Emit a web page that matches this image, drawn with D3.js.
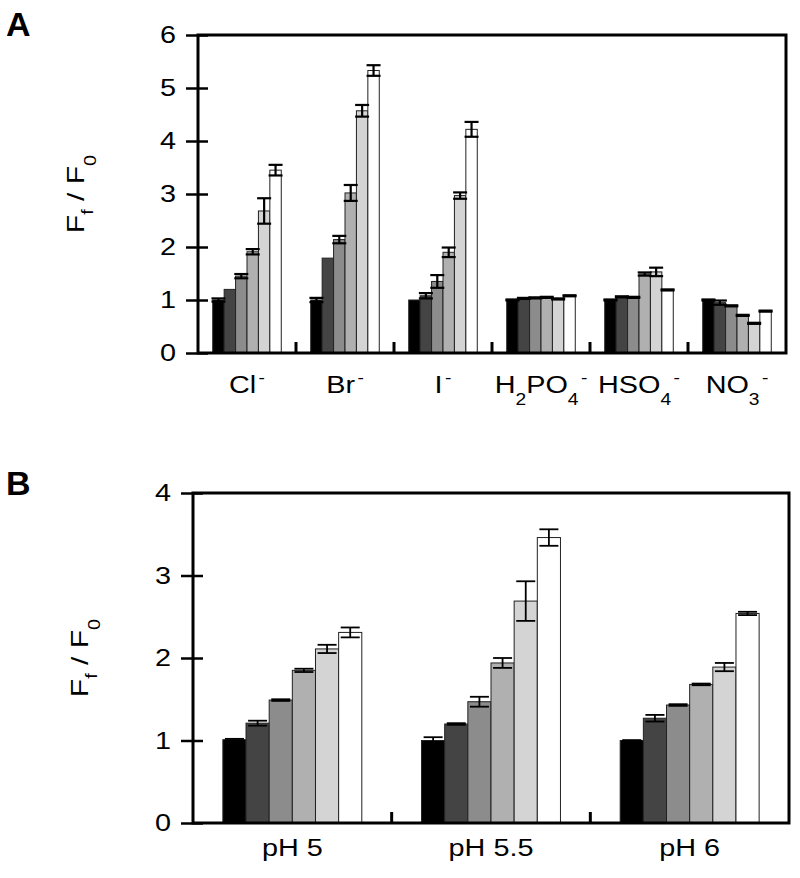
<!DOCTYPE html>
<html>
<head>
<meta charset="utf-8">
<script src="https://cdn.jsdelivr.net/npm/d3@7"></script>
<style>
  body { margin: 0; background: #fff; }
  text { font-family: "Liberation Sans", Arial, sans-serif; fill: #000; }
</style>
</head>
<body>
<svg id="chart" width="800" height="878"></svg>
<script>
// ---------- data ----------
const levels = ["c0", "c1", "c2", "c3", "c4", "c5"];
const levelColors = ["#000000", "#444444", "#8c8c8c", "#b0b0b0", "#d4d4d4", "#ffffff"];

// Panel A: anions (label parts: [text, kind] kind: n=normal, sub, sup)
const anionsA = ["Cl-", "Br-", "I-", "H2PO4-", "HSO4-", "NO3-"];
const anionLabels = [
  [["Cl", "n"], ["-", "sup"]],
  [["Br", "n"], ["-", "sup"]],
  [["I", "n"], ["-", "sup"]],
  [["H", "n"], ["2", "sub"], ["PO", "n"], ["4", "sub"], ["-", "sup"]],
  [["HSO", "n"], ["4", "sub"], ["-", "sup"]],
  [["NO", "n"], ["3", "sub"], ["-", "sup"]]
];
const valuesA = [
  [1.00, 1.20, 1.45, 1.91, 2.68, 3.45],
  [1.00, 1.79, 2.14, 3.02, 4.57, 5.33],
  [1.00, 1.08, 1.35, 1.90, 2.97, 4.22],
  [1.00, 1.03, 1.04, 1.05, 1.02, 1.08],
  [1.00, 1.06, 1.05, 1.49, 1.53, 1.19],
  [1.00, 0.95, 0.89, 0.71, 0.56, 0.79]
];
const errorsA = [
  [0.03, 0.00, 0.04, 0.05, 0.24, 0.10],
  [0.04, 0.00, 0.07, 0.15, 0.11, 0.10],
  [0.00, 0.05, 0.12, 0.09, 0.06, 0.14],
  [0.01, 0.01, 0.01, 0.01, 0.01, 0.01],
  [0.01, 0.01, 0.01, 0.03, 0.08, 0.01],
  [0.01, 0.04, 0.01, 0.01, 0.01, 0.01]
];
const ticksA = [0, 1, 2, 3, 4, 5, 6];

// Panel B: pH
const pHs = ["pH 5", "pH 5.5", "pH 6"];
const valuesB = [
  [1.01, 1.21, 1.49, 1.85, 2.11, 2.31],
  [1.00, 1.20, 1.47, 1.94, 2.69, 3.46],
  [1.00, 1.27, 1.43, 1.68, 1.89, 2.54]
];
const errorsB = [
  [0.01, 0.03, 0.01, 0.02, 0.05, 0.06],
  [0.04, 0.01, 0.06, 0.06, 0.24, 0.10],
  [0.005, 0.04, 0.01, 0.01, 0.05, 0.02]
];
const ticksB = [0, 1, 2, 3, 4];

// ---------- drawing ----------
const svg = d3.select("#chart");
const FS = 24, FSS = 16, SX = 1.2;

function panel(cfg) {
  const g = svg.append("g");
  const x = d3.scaleBand().domain(cfg.groups).range([cfg.left, cfg.right]).padding(0);
  const xi = d3.scaleBand().domain(levels).range([0, x.bandwidth()]).paddingInner(0).paddingOuter(1.29);
  const y = d3.scaleLinear().domain([0, cfg.ymax]).range([cfg.bottom, cfg.top]);

  // bars
  cfg.groups.forEach((grp, gi) => {
    const gg = g.append("g").attr("transform", `translate(${x(grp)},0)`);
    const rows = levels.map((l, li) => ({ l, li, v: cfg.values[gi][li], e: cfg.errors[gi][li] }));
    gg.selectAll("rect").data(rows).join("rect")
      .attr("x", d => xi(d.l))
      .attr("y", d => y(d.v))
      .attr("width", xi.bandwidth())
      .attr("height", d => y(0) - y(d.v))
      .attr("fill", d => levelColors[d.li])
      .attr("stroke", "#222")
      .attr("stroke-width", 1);
    const eb = rows.filter(d => d.e > 0);
    const cx = d => xi(d.l) + xi.bandwidth() / 2;
    gg.selectAll("line.v").data(eb).join("line").attr("class", "v")
      .attr("x1", cx).attr("x2", cx)
      .attr("y1", d => y(d.v - d.e)).attr("y2", d => y(d.v + d.e))
      .attr("stroke", "#000").attr("stroke-width", cfg.ebw);
    ["lo", "hi"].forEach(k => {
      gg.selectAll("line." + k).data(eb).join("line").attr("class", k)
        .attr("x1", d => cx(d) - cfg.cap / 2).attr("x2", d => cx(d) + cfg.cap / 2)
        .attr("y1", d => y(k === "lo" ? d.v - d.e : d.v + d.e))
        .attr("y2", d => y(k === "lo" ? d.v - d.e : d.v + d.e))
        .attr("stroke", "#000").attr("stroke-width", cfg.ebw);
    });
  });

  // frame
  g.append("rect")
    .attr("x", cfg.left).attr("y", cfg.top)
    .attr("width", cfg.right - cfg.left).attr("height", cfg.bottom - cfg.top)
    .attr("fill", "none").attr("stroke", "#000").attr("stroke-width", 3);

  // y axis
  const ya = g.append("g").attr("transform", `translate(${cfg.left},0)`)
    .call(d3.axisLeft(y).tickValues(cfg.ticks).tickFormat(d3.format("d")).tickSize(12).tickPadding(9));
  ya.select(".domain").remove();
  ya.selectAll(".tick line").attr("x1", 10).attr("stroke", "#000").attr("stroke-width", 2.5);
  ya.selectAll(".tick text")
    .attr("font-size", FS).attr("font-family", "Liberation Sans, Arial, sans-serif").attr("fill", "#000")
    .attr("x", -22 / SX).attr("transform", `scale(${SX},1)`);

  // category separator ticks (inside, from bottom)
  const seps = cfg.groups.slice(1).map(gp => x(gp));
  g.selectAll("line.sep").data(seps).join("line").attr("class", "sep")
    .attr("x1", d => d).attr("x2", d => d)
    .attr("y1", cfg.bottom).attr("y2", cfg.bottom - 11)
    .attr("stroke", "#000").attr("stroke-width", 3);

  // x labels
  cfg.groups.forEach((grp, gi) => {
    const t = g.append("text")
      .attr("transform", `translate(${x(grp) + x.bandwidth() / 2},${cfg.bottom + cfg.labelDy}) scale(${SX},1)`)
      .attr("text-anchor", "middle")
      .attr("font-size", FS);
    const parts = cfg.labels ? cfg.labels[gi] : [[grp, "n"]];
    let shift = 0;
    parts.forEach(([txt, kind]) => {
      const target = kind === "sub" ? 12 : kind === "sup" ? -10 : 0;
      t.append("tspan")
        .attr("dy", target - shift)
        .attr("font-size", kind === "n" ? FS : FSS)
        .attr("dx", kind === "sup" ? 2 : 0)
        .text(txt);
      shift = target;
    });
  });

  // y label
  const cy = (cfg.top + cfg.bottom) / 2;
  const yl = g.append("text")
    .attr("transform", `translate(${cfg.ylabX},${cy}) rotate(-90) scale(1.25,1)`)
    .attr("text-anchor", "middle")
    .attr("font-size", FS);
  yl.append("tspan").text("F");
  yl.append("tspan").attr("dy", 9).attr("font-size", FSS).text("f");
  yl.append("tspan").attr("dy", -9).text(" / F");
  yl.append("tspan").attr("dy", 12).attr("font-size", FSS).text("0");

  // panel letter
  svg.append("text").attr("x", cfg.letterX).attr("y", cfg.letterY)
    .attr("font-size", 34).attr("font-weight", "bold").text(cfg.letter);
}

panel({
  groups: anionsA, labels: anionLabels, values: valuesA, errors: errorsA, ticks: ticksA,
  ymax: 6, left: 198, right: 786, top: 35, bottom: 353,
  cap: 14, ebw: 2.2, labelDy: 40, ylabX: 84, letter: "A", letterX: 6, letterY: 36
});
panel({
  groups: pHs, values: valuesB, errors: errorsB, ticks: ticksB,
  ymax: 4, left: 193, right: 789, top: 493, bottom: 823,
  cap: 19, ebw: 1.8, labelDy: 33, ylabX: 88, letter: "B", letterX: 6, letterY: 495
});
</script>
</body>
</html>
